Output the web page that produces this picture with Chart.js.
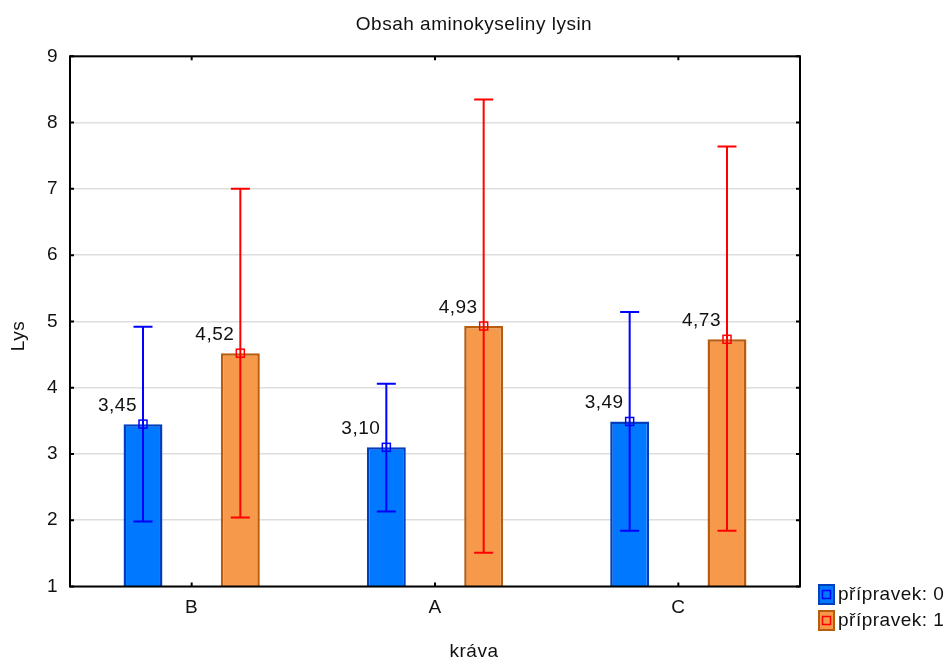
<!DOCTYPE html>
<html>
<head>
<meta charset="utf-8">
<script src="https://cdn.jsdelivr.net/npm/chart.js@4.4.0/dist/chart.umd.min.js"></script>
<style>
html, body { margin: 0; padding: 0; background: #fff; }
#wrap { width: 948px; height: 664px; }
</style>
</head>
<body>
<div id="wrap"><canvas id="chart" width="948" height="664"></canvas></div>
<script>
// data
const categories = ["B", "A", "C"];
const seriesNames = ["přípravek: 0", "přípravek: 1"];
const means0 = [3.45, 3.10, 3.49];
const low0 = [1.98, 2.13, 1.84];
const high0 = [4.92, 4.06, 5.14];
const means1 = [4.52, 4.93, 4.73];
const low1 = [2.04, 1.51, 1.84];
const high1 = [7.00, 8.35, 7.64];
const yTicks = [1, 2, 3, 4, 5, 6, 7, 8, 9];
const xTitle = "kráva";
const yTitle = "Lys";

const fontFamily = "'Liberation Sans', Arial, sans-serif";
const fontSize = 19;
const fill0 = "rgb(0,120,255)";
const edge0 = "rgb(0,64,190)";
const err0 = "rgb(0,0,255)";
const fill1 = "rgb(247,153,74)";
const edge1 = "rgb(184,92,16)";
const err1 = "rgb(255,0,0)";

const lows = [low0, low1];
const highs = [high0, high1];
const errColors = [err0, err1];

// error bars, value labels, frame, ticks, axis titles and legend
const extrasPlugin = {
    id: "extras",
    beforeDraw(chart) {
        chart.ctx.letterSpacing = "0.5px";
    },
    afterDatasetsDraw(chart) {
        const ctx = chart.ctx;
        const y = chart.scales.y;
        const x = chart.scales.x;
        const area = chart.chartArea;

        chart.data.datasets.forEach((ds, i) => {
            const meta = chart.getDatasetMeta(i);
            meta.data.forEach((bar, j) => {
                const cx = bar.x;
                const yLo = y.getPixelForValue(lows[i][j]);
                const yHi = y.getPixelForValue(highs[i][j]);
                const yM = y.getPixelForValue(ds.data[j]);
                ctx.save();
                ctx.strokeStyle = errColors[i];
                ctx.lineWidth = 2;
                ctx.beginPath();
                ctx.moveTo(cx, yLo);
                ctx.lineTo(cx, yHi);
                ctx.moveTo(cx - 9.5, yLo);
                ctx.lineTo(cx + 9.5, yLo);
                ctx.moveTo(cx - 9.5, yHi);
                ctx.lineTo(cx + 9.5, yHi);
                ctx.stroke();
                ctx.lineWidth = 1.5;
                ctx.strokeRect(cx - 4, yM - 4, 8, 8);

                ctx.fillStyle = "#111";
                ctx.font = fontSize + "px " + fontFamily;
                ctx.textAlign = "right";
                ctx.textBaseline = "alphabetic";
                ctx.fillText(ds.data[j].toFixed(2).replace(".", ","), cx - 6, yM - 13);
                ctx.restore();
            });
        });

        // frame
        ctx.save();
        ctx.strokeStyle = "#000";
        ctx.lineWidth = 2;
        ctx.strokeRect(area.left, area.top, area.right - area.left, area.bottom - area.top);
        ctx.beginPath();
        yTicks.forEach(v => {
            const py = y.getPixelForValue(v);
            ctx.moveTo(area.left, py);
            ctx.lineTo(area.left + 4, py);
            ctx.moveTo(area.right, py);
            ctx.lineTo(area.right - 4, py);
        });
        categories.forEach((c, j) => {
            const px = x.getPixelForValue(j);
            ctx.moveTo(px, area.bottom);
            ctx.lineTo(px, area.bottom - 4);
            ctx.moveTo(px, area.top);
            ctx.lineTo(px, area.top + 4);
        });
        ctx.stroke();
        ctx.restore();

        // axis titles, centred on the whole graph like the original
        ctx.save();
        ctx.fillStyle = "#111";
        ctx.font = fontSize + "px " + fontFamily;
        ctx.textAlign = "center";
        ctx.textBaseline = "middle";
        ctx.fillText(xTitle, chart.width / 2, 652);
        ctx.translate(18.5, 336);
        ctx.rotate(-Math.PI / 2);
        ctx.fillText(yTitle, 0, 0);
        ctx.restore();

        // legend
        ctx.save();
        chart.data.datasets.forEach((ds, i) => {
            const top = 584 + i * 26;
            ctx.fillStyle = ds.backgroundColor;
            ctx.fillRect(818, top, 17, 21);
            ctx.strokeStyle = ds.borderColor;
            ctx.lineWidth = 2;
            ctx.strokeRect(819, top + 1, 15, 19);
            ctx.strokeStyle = errColors[i];
            ctx.lineWidth = 1.5;
            ctx.strokeRect(822.5, top + 6.5, 8, 8);
            ctx.fillStyle = "#111";
            ctx.font = fontSize + "px " + fontFamily;
            ctx.textAlign = "left";
            ctx.textBaseline = "middle";
            ctx.fillText(ds.label, 838, top + 11);
        });
        ctx.restore();
    }
};

new Chart(document.getElementById("chart"), {
    type: "bar",
    data: {
        labels: categories,
        datasets: [
            {
                label: seriesNames[0],
                data: means0,
                backgroundColor: fill0,
                borderColor: edge0,
                borderWidth: 2.5,
                categoryPercentage: 0.8,
                barPercentage: 0.4
            },
            {
                label: seriesNames[1],
                data: means1,
                backgroundColor: fill1,
                borderColor: edge1,
                borderWidth: 2.5,
                categoryPercentage: 0.8,
                barPercentage: 0.4
            }
        ]
    },
    options: {
        responsive: false,
        animation: false,
        devicePixelRatio: 1,
        layout: { padding: 0 },
        plugins: {
            legend: { display: false },
            tooltip: { enabled: false },
            title: {
                display: true,
                text: "Obsah aminokyseliny lysin",
                color: "#111",
                font: { family: fontFamily, size: fontSize, weight: "normal" },
                padding: { top: 13.5, bottom: 20 }
            }
        },
        scales: {
            x: {
                grid: { display: false, drawTicks: false },
                border: { display: false },
                ticks: {
                    color: "#111",
                    padding: 10,
                    font: { family: fontFamily, size: fontSize }
                },
                afterFit: s => { s.height = 77.5; }
            },
            y: {
                min: 1,
                max: 9,
                grid: { color: "#dedede", lineWidth: 1.5, drawTicks: false },
                border: { display: false },
                afterBuildTicks: s => { s.ticks = yTicks.map(v => ({ value: v })); },
                ticks: {
                    color: "#111",
                    padding: 12,
                    font: { family: fontFamily, size: fontSize }
                },
                afterFit: s => { s.width = 70; }
            },
            // empty right axis only reserves room for the legend
            yRight: {
                position: "right",
                min: 1,
                max: 9,
                grid: { display: false, drawTicks: false },
                border: { display: false },
                ticks: { display: false },
                afterFit: s => { s.width = 148; }
            }
        }
    },
    plugins: [extrasPlugin]
});
</script>
</body>
</html>
